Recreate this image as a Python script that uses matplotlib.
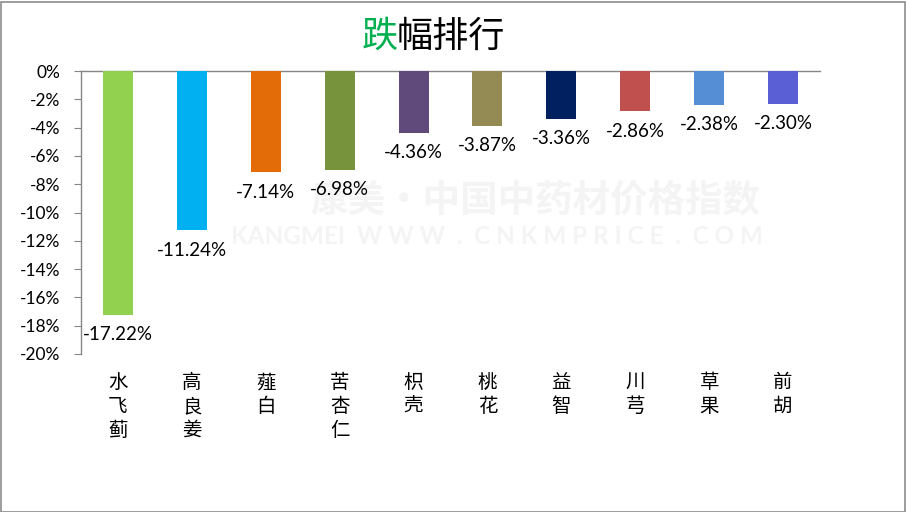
import matplotlib
matplotlib.use("Agg")
import matplotlib.pyplot as plt
from matplotlib.patches import Rectangle

categories = ["水飞蓟", "高良姜", "薤白", "苦杏仁", "枳壳", "桃花", "益智", "川芎", "草果", "前胡"]
values = [-17.22, -11.24, -7.14, -6.98, -4.36, -3.87, -3.36, -2.86, -2.38, -2.30]
colors = ["#92D050", "#00B0F0", "#E36C09", "#77933C", "#604A7B",
          "#948A54", "#002060", "#C0504D", "#558ED5", "#5B5FD6"]
yticks = [0, -2, -4, -6, -8, -10, -12, -14, -16, -18, -20]

plt.rcParams['font.family'] = ['Lato', 'Noto Sans CJK SC', 'DejaVu Sans']

W, H = 906, 512
fig = plt.figure(figsize=(W / 100, H / 100), dpi=100)
fig.patch.set_facecolor("white")
fig.patches.append(Rectangle((0.5 / W, 0.5 / H), 1 - 2 / W, 1 - 2 / H, transform=fig.transFigure,
                             fill=False, edgecolor="#8C8C8C", linewidth=1.2))

left, right, top, bottom = 81, 820, 71, 354
ax = fig.add_axes([left / W, 1 - bottom / H, (right - left) / W, (bottom - top) / H])

x = list(range(len(categories)))
ax.bar(x, values, width=0.405, color=colors, zorder=3)
ax.set_xlim(-0.5, len(categories) - 0.5)
ax.set_ylim(-20, 0)
ax.set_yticks(yticks)
ax.set_yticklabels([f"{t}%" for t in yticks], fontsize=12.5)
ax.tick_params(axis="y", length=5, color="#868686", pad=10)
ax.set_xticks([])

for s in ["right", "bottom"]:
    ax.spines[s].set_visible(False)
for s in ["left", "top"]:
    ax.spines[s].set_color("#868686")
    ax.spines[s].set_linewidth(1)

for xi, v in zip(x, values):
    ax.annotate(f"{v:.2f}%", (xi, v), xytext=(0, -20), textcoords="offset pixels",
                ha="center", va="center", fontsize=13.5, zorder=5)

for xi, c in zip(x, categories):
    ax.annotate("\n".join(c), (xi, -20), xytext=(0, -18), textcoords="offset pixels",
                ha="center", va="top", fontsize=14, family=['Noto Sans CJK SC'],
                linespacing=1.18, annotation_clip=False)

# watermark (inside the axes, beneath everything)
ax.text((535 - left) / (right - left), 1 - (200 - top) / (bottom - top), "康美·中国中药材价格指数",
        transform=ax.transAxes, ha="center", va="center", fontsize=27, color="#F4F4F4",
        fontweight="bold", family=['Noto Sans CJK SC'], zorder=1)
ax.text((497 - left) / (right - left), 1 - (237 - top) / (bottom - top),
        "KANGMEI  W W W  .  C N K M P R I C E  .  C O M",
        transform=ax.transAxes, ha="center", va="center", fontsize=17.5, color="#F4F4F4",
        fontweight="bold", zorder=1)

# title
fig.text(362 / W, 1 - 37 / H, "跌", ha="left", va="center", fontsize=26,
         color="#00B050", family=['Noto Sans CJK SC'])
fig.text(397 / W, 1 - 37 / H, "幅排行", ha="left", va="center", fontsize=26,
         color="black", family=['Noto Sans CJK SC'])

fig.savefig("out.png", dpi=100, facecolor="white")
